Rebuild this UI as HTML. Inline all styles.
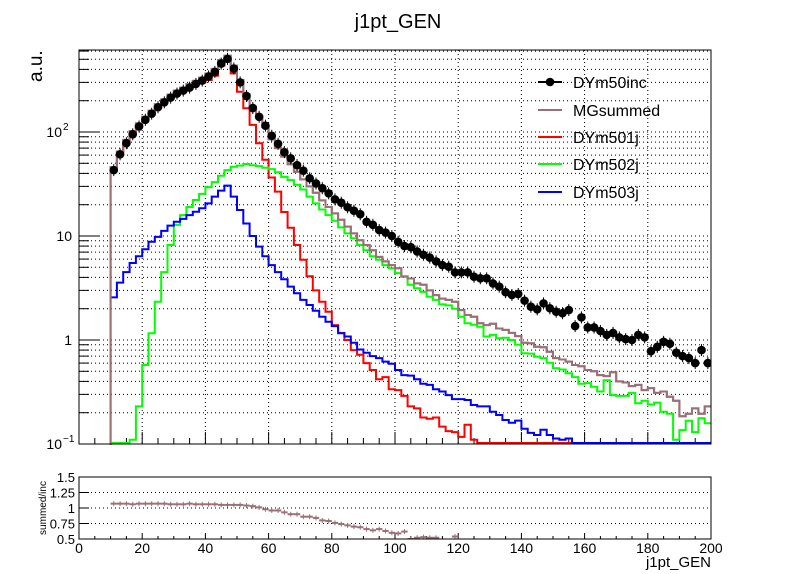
<!DOCTYPE html>
<html><head><meta charset="utf-8"><style>
html,body{margin:0;padding:0;background:#fff;}
svg{display:block;font-family:"Liberation Sans",sans-serif;}
</style></head><body>
<svg id="c" width="798" height="574" viewBox="0 0 798 574">
<rect x="0" y="0" width="798" height="574" fill="#fff"/>
<defs><clipPath id="mainclip"><rect x="79" y="50" width="632" height="395"/></clipPath>
<clipPath id="ratioclip"><rect x="79" y="477" width="632" height="62"/></clipPath></defs>
<text x="398" y="28" font-size="20" text-anchor="middle">j1pt_GEN</text>
<g id="grid"></g>
<g id="ticks"></g>
<g id="series" clip-path="url(#mainclip)"></g>
<rect x="79" y="50" width="632" height="394" fill="none" stroke="#000" stroke-width="1"/>
<text transform="translate(42,82) rotate(-90)" font-size="19" text-anchor="start">a.u.</text>
<g id="legend"></g>
<g id="rgrid"></g>
<g id="rticks"></g>
<g id="rseries" clip-path="url(#ratioclip)"></g>
<rect x="79" y="477" width="632" height="62" fill="none" stroke="#000" stroke-width="1"/>
<text transform="translate(46,508) rotate(-90)" font-size="10" text-anchor="middle">summed/inc</text>
<text x="711" y="567" font-size="15" text-anchor="end">j1pt_GEN</text>
</svg>
<script>
const binLow = [];
for (let b = 10; b < 200; b += 2) binLow.push(b);
const mgSummed = [46,65,84,102,121,140,160,185,206,229,250,267,288,310,333,365,404,492,542,435,316,231,175,140,112,85,70,58,49,41.5,35,30,26,22,19,16.5,14.3,12.3,10.6,9.1,8.2,7.3,6.3,5.7,5.25,4.9,4.07,3.9,3.5,3.4,3.0,2.7,2.5,2.43,2.33,1.94,1.74,1.67,1.45,1.39,1.43,1.29,1.25,1.17,1.09,0.94,0.93,0.86,0.85,0.77,0.67,0.65,0.62,0.575,0.56,0.515,0.50,0.46,0.45,0.49,0.40,0.39,0.36,0.37,0.33,0.345,0.31,0.32,0.285,0.26,0.185,0.195,0.22,0.195,0.23];
const dyInc = [43,61,78,95,113,131,150,173,193,214,234,250,267,290,312,342,378,455,505,408,300,222,170,140,115,92,77,64,55.8,48,42.5,35.9,32,28.8,25.7,22.5,20.9,18.9,17.5,16.2,13.7,12.8,11.4,10.8,10,8.8,8.0,7.8,7.1,6.6,6.2,5.7,5.25,5.07,4.47,4.47,4.47,4.06,3.92,3.92,3.5,3.26,2.88,2.71,2.77,2.39,2.09,1.97,2.25,2.02,1.87,1.81,1.94,1.36,1.65,1.32,1.32,1.22,1.12,1.17,1.06,1.02,1.0,1.12,1.06,0.78,0.86,0.96,0.92,0.755,0.70,0.67,0.60,0.80,0.60];
const dy1j = [43,61,79,96,114,131,150,172,193,214,234,250,270,290,300,316,348,435,492,366,244,169,117,78,54,36.5,26.7,17,12,8.2,5.9,4.1,3.0,2.33,1.87,1.39,1.17,1.0,0.80,0.72,0.60,0.515,0.42,0.44,0.336,0.33,0.29,0.23,0.22,0.18,0.175,0.18,0.147,0.133,0.13,0.117,0.153,0.11,0,0,0,0,0,0,0,0,0,0,0,0,0,0,0,0,0,0,0,0,0,0,0,0,0,0,0,0,0,0,0,0,0,0,0,0,0];
const dy2j = [0,0,0,0.11,0.23,0.575,1.16,2.33,4.5,8.2,12.8,15.9,19,22.2,25.4,29.5,33,38,43,46.4,47.5,49.2,48,47,45.4,44,41,37,34.5,31,28,23.9,20.6,18,15.9,14,12.1,10.6,9.5,8.2,7.3,6.4,5.9,5.25,4.9,4.4,4.1,3.4,3.14,2.9,2.6,2.43,2.2,2.15,2.0,1.67,1.45,1.4,1.34,1.08,1.12,1.04,1.05,1.0,0.9,0.745,0.74,0.69,0.67,0.605,0.535,0.52,0.48,0.44,0.38,0.385,0.355,0.32,0.41,0.295,0.29,0.29,0.31,0.246,0.26,0.24,0.25,0.204,0.195,0.11,0.136,0.167,0.13,0.177,0.158];
const dy3j = [2.57,3.56,4.5,5.5,6.4,7.45,8.8,9.8,11.2,12.6,13.7,14.6,15.9,17.1,18.5,20.6,23.9,27.3,30.5,23.9,17.8,13.2,10,7.9,6.4,5.25,4.5,3.84,3.26,2.82,2.43,2.17,1.91,1.67,1.5,1.36,1.16,1.08,0.94,0.81,0.755,0.70,0.67,0.62,0.59,0.515,0.46,0.455,0.42,0.38,0.37,0.336,0.32,0.295,0.27,0.27,0.265,0.237,0.23,0.23,0.204,0.19,0.17,0.16,0.168,0.14,0.128,0.122,0.137,0.122,0.113,0.11,0.113,0,0,0,0,0,0,0,0,0,0,0,0,0,0,0,0,0,0,0,0,0,0];
const ratio = [1.07,1.07,1.07,1.06,1.07,1.07,1.07,1.07,1.07,1.06,1.06,1.06,1.07,1.06,1.06,1.06,1.06,1.05,1.05,1.05,1.05,1.04,1.03,1.01,0.98,0.96,0.96,0.93,0.90,0.90,0.86,0.86,0.84,0.80,0.79,0.76,0.74,0.72,0.70,0.69,0.66,0.64,0.66,0.63,0.60,0.59,0.62,0.50,0.52,0.53,0.52,0.52,0.45,0.45,0.54,0.4,0.4,0.4,0.4,0.4,0.4,0.4,0.4,0.4,0.4,0.4,0.4,0.4,0.4,0.4,0.4,0.4,0.4,0.4,0.4,0.4,0.4,0.4,0.4,0.4,0.4,0.4,0.4,0.4,0.4,0.4,0.4,0.4,0.4,0.4,0.4,0.4,0.4,0.4,0.4];
const xTickLabels = ["0","20","40","60","80","100","120","140","160","180","200"];
const ratioTicks = [0.5,0.75,1,1.25,1.5];
const ratioTickLabels = ["0.5","0.75","1","1.25","1.5"];
const legendLabels = ["DYm50inc","MGsummed","DYm501j","DYm502j","DYm503j"];

const NS = "http://www.w3.org/2000/svg";
const X0 = 79, X1 = 711, YB = 444, YT = 50, DEC = 104;
const RT = 477, RB = 539;
function xs(v){ return X0 + (v/200)*(X1-X0); }
function ys(v){ if (!(v > 0)) return YB - 1; const y = YB - (Math.log10(v)+1)*DEC; return Math.min(y, YB - 1); }
function yr(r){ return RB - (r-0.5)/(1.0)*(RB-RT); }
function mk(tag, attrs, parent){ const e = document.createElementNS(NS, tag); for (const k in attrs) e.setAttribute(k, attrs[k]); parent.appendChild(e); return e; }

const grid = document.getElementById('grid');
const ticks = document.getElementById('ticks');
for (let v = 20; v < 200; v += 20) {
  const l = mk('line', {x1: xs(v), x2: xs(v), y1: YT, y2: YB, stroke: '#000', 'stroke-width': 1, 'stroke-dasharray': '1,3'}, grid);
  
  
}
for (let d = -1; d <= 2; d++) {
  for (let m = 1; m <= 9; m++) {
    const v = m * Math.pow(10, d);
    const y = YB - (Math.log10(v)+1)*DEC;
    if (y < YT || y > YB + 0.5) continue;
    if (!(m===1 && d===-1)) {
      const g = mk('line', {x1: X0, x2: X1, y1: y, y2: y, stroke: '#000', 'stroke-width': 1, 'stroke-dasharray': '1,3'}, grid);
      
      
    }
    const t = mk('line', {x1: X0, x2: X0 + (m === 1 ? 20 : 10), y1: y, y2: y, stroke: '#000', 'stroke-width': 1}, ticks);
    
    
  }
}
const yLabs = [[2,'10','2'],[1,'10',''],[0,'1',''],[-1,'10','−1']];
yLabs.forEach(([d, base, sup]) => {
  const y = YB - (d+1)*DEC;
  const t = mk('text', {x: sup ? 62 : 72, y: y + 5, 'font-size': 14, 'text-anchor': 'end'}, ticks);
  t.textContent = base;
  
  
  if (sup) {
    const s = mk('text', {x: 63, y: y - 2, 'font-size': 10, 'text-anchor': 'start'}, ticks);
    s.textContent = sup;
    
    
  }
});
for (let v = 0; v <= 200; v += 5) {
  const major = v % 20 === 0;
  const a = mk('line', {x1: xs(v), x2: xs(v), y1: YB, y2: YB - (major ? 12 : 6), stroke: '#000', 'stroke-width': 1}, ticks);
  
  
  const b = mk('line', {x1: xs(v), x2: xs(v), y1: RB, y2: RB - (major ? 6 : 3), stroke: '#000', 'stroke-width': 1}, document.getElementById('rticks'));
  
  
}
xTickLabels.forEach((lab, i) => {
  const t = mk('text', {x: xs(i*20), y: 553, 'font-size': 14, 'text-anchor': 'middle'}, document.getElementById('rticks'));
  t.textContent = lab;
  
  
});

const series = document.getElementById('series');
function stepPath(vals, startFromBottom){
  let d = 'M' + xs(binLow[0]) + ',' + (startFromBottom ? YB + 2 : ys(vals[0]));
  vals.forEach((v, i) => {
    d += ' V' + ys(v).toFixed(1) + ' H' + xs(binLow[i] + 2).toFixed(1);
  });
  return d;
}
const histDefs = [[mgSummed,'#9a6f78','mg-summed-hist',true],[dy1j,'#ff0000','dym501j-hist',false],[dy2j,'#00ff00','dym502j-hist',false],[dy3j,'#0000ff','dym503j-hist',false]];
histDefs.forEach(([vals, col, name, fb]) => {
  const p = mk('path', {d: stepPath(vals, fb), fill: 'none', stroke: col, 'stroke-width': 2}, series);
  
  
});
const pm = mk('path', {d: stepPath(mgSummed, true), fill: 'none', stroke: '#9a6f78', 'stroke-width': 2}, series);


dyInc.forEach((v, i) => {
  const cx = xs(binLow[i] + 1), cy = ys(v);
  const e = mk('line', {x1: cx, x2: cx, y1: cy - 6, y2: cy + 6, stroke: '#000', 'stroke-width': 1}, series);
  
  
  const c = mk('circle', {cx: cx, cy: cy, r: 4.3, fill: '#000'}, series);
  
  
});

const legend = document.getElementById('legend');
const legCols = ['#000','#9a6f78','#ff0000','#00ff00','#0000ff'];
const legY = [82,110,137,164,192];
legendLabels.forEach((lab, i) => {
  const l = mk('line', {x1: 538, x2: 562, y1: legY[i], y2: legY[i], stroke: legCols[i], 'stroke-width': 2}, legend);
  
  
  if (i === 0) {
    const c = mk('circle', {cx: 550, cy: legY[i], r: 4.3, fill: '#000'}, legend);
    
    
  }
  const t = mk('text', {x: 573, y: legY[i] + 6, 'font-size': 16}, legend);
  t.textContent = lab;
  
  
});

const rgrid = document.getElementById('rgrid');
const rticks = document.getElementById('rticks');
ratioTicks.forEach((r, i) => {
  const y = yr(r);
  if (r > 0.5 && r < 1.5) {
    const g = mk('line', {x1: X0, x2: X1, y1: y, y2: y, stroke: '#000', 'stroke-width': 1, 'stroke-dasharray': '1,3'}, rgrid);
    
    
  }
  const t = mk('line', {x1: X0, x2: X0 + 10, y1: y, y2: y, stroke: '#000', 'stroke-width': 1}, rticks);
  
  
  const lab = mk('text', {x: 75, y: y + 5, 'font-size': 13, 'text-anchor': 'end'}, rticks);
  lab.textContent = ratioTickLabels[i];
  
  
});
const rseries = document.getElementById('rseries');
ratio.forEach((r, i) => {
  if (r < 0.5 || r > 1.5) return;
  const y = yr(r);
  const h = mk('line', {x1: xs(binLow[i]), x2: xs(binLow[i] + 2), y1: y, y2: y, stroke: '#9a6f78', 'stroke-width': 2}, rseries);
  
  
  const v = mk('line', {x1: xs(binLow[i] + 1), x2: xs(binLow[i] + 1), y1: y - 2.5, y2: y + 2.5, stroke: '#9a6f78', 'stroke-width': 1}, rseries);
  
  
});
</script>
</body></html>
